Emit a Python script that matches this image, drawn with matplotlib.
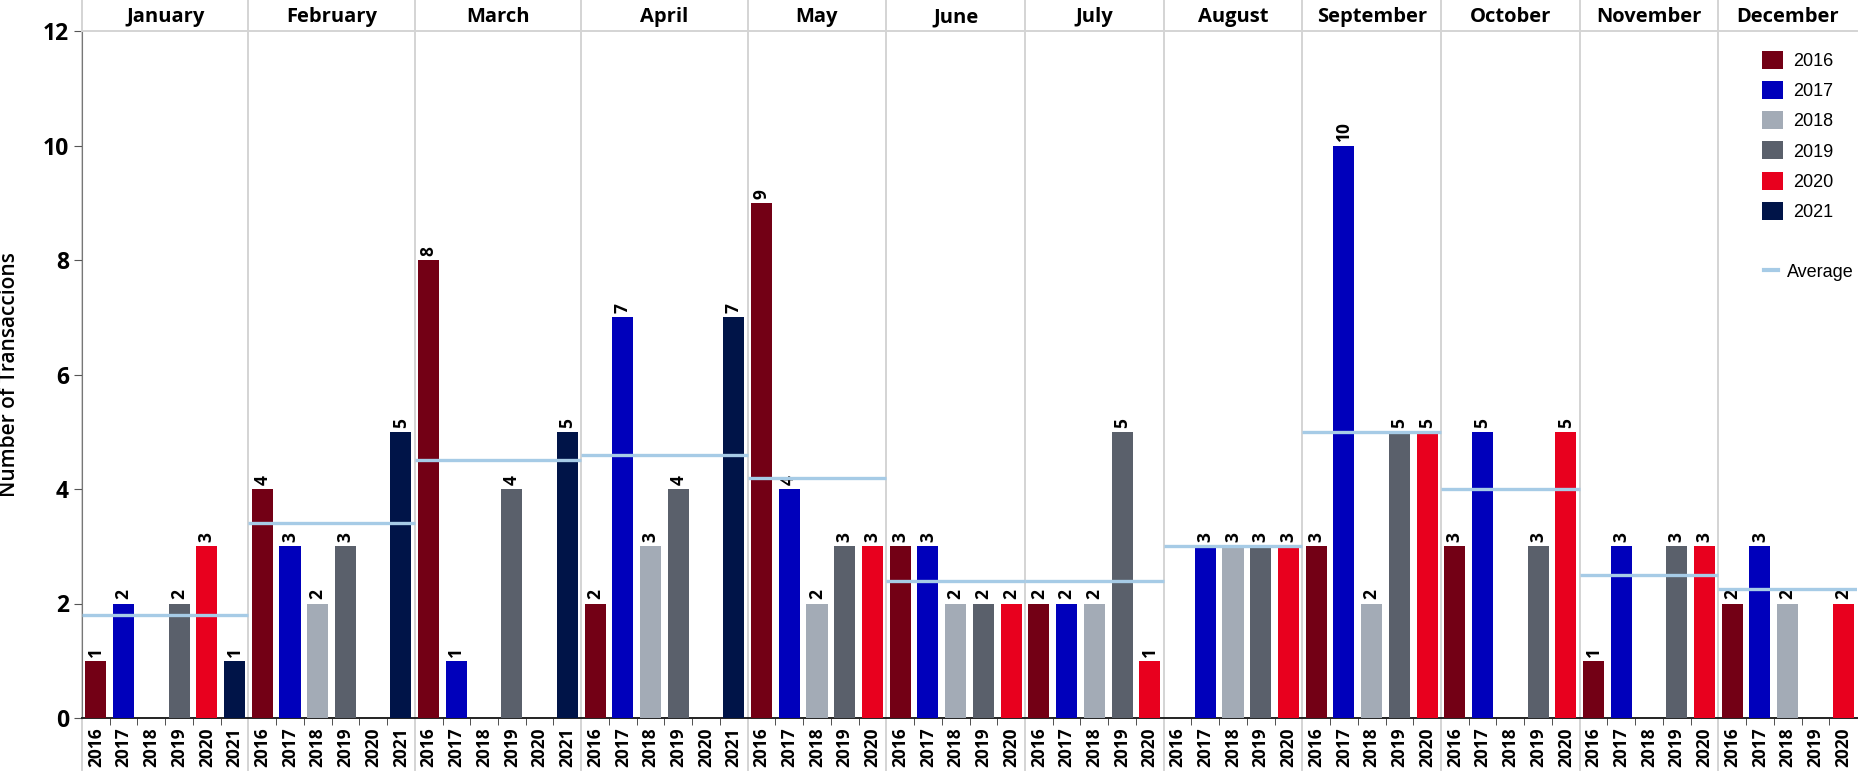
import numpy as np
import matplotlib
matplotlib.use("Agg")
import matplotlib.pyplot as plt
from matplotlib.patches import Patch
from matplotlib.lines import Line2D

months = ["January", "February", "March", "April", "May", "June",
          "July", "August", "September", "October", "November", "December"]

month_years = [
    [2016, 2017, 2018, 2019, 2020, 2021],  # January
    [2016, 2017, 2018, 2019, 2020, 2021],  # February
    [2016, 2017, 2018, 2019, 2020, 2021],  # March
    [2016, 2017, 2018, 2019, 2020, 2021],  # April
    [2016, 2017, 2018, 2019, 2020],        # May
    [2016, 2017, 2018, 2019, 2020],        # June
    [2016, 2017, 2018, 2019, 2020],        # July
    [2016, 2017, 2018, 2019, 2020],        # August
    [2016, 2017, 2018, 2019, 2020],        # September
    [2016, 2017, 2018, 2019, 2020],        # October
    [2016, 2017, 2018, 2019, 2020],        # November
    [2016, 2017, 2018, 2019, 2020],        # December
]

counts = [
    [1, 2, None, 2, 3, 1],
    [4, 3, 2, 3, None, 5],
    [8, 1, None, 4, None, 5],
    [2, 7, 3, 4, None, 7],
    [9, 4, 2, 3, 3],
    [3, 3, 2, 2, 2],
    [2, 2, 2, 5, 1],
    [None, 3, 3, 3, 3],
    [3, 10, 2, 5, 5],
    [3, 5, None, 3, 5],
    [1, 3, None, 3, 3],
    [2, 3, 2, None, 2],
]

year_colors = {
    2016: "#730015",
    2017: "#0000BB",
    2018: "#A3ABB6",
    2019: "#5A606B",
    2020: "#E8001E",
    2021: "#001448",
}
avg_color = "#A6CBE6"
sep_color = "#D4D4D4"
font = "Open Sans"

fig = plt.figure(figsize=(18.6, 7.8), dpi=100)
ax = fig.add_axes([82 / 1860, 62 / 780, 1775 / 1860, 687 / 780])

pos = 0
xticks, xlabels, bounds, minor = [], [], [-0.5], []
for m, (yrs, vals) in enumerate(zip(month_years, counts)):
    start = pos
    for y, v in zip(yrs, vals):
        xticks.append(pos)
        xlabels.append(str(y))
        if v is not None:
            ax.bar(pos, v, width=0.76, color=year_colors[y], zorder=3)
            ax.annotate(str(v), (pos, v), xytext=(0, 3), textcoords="offset points",
                        rotation=90, ha="center", va="bottom", fontsize=12.5,
                        fontweight="bold", family=font, zorder=4)
        pos += 1
    end = pos - 1
    minor.extend(np.arange(start, end) + 0.5)
    bounds.append(end + 0.5)
    present = [v for v in vals if v is not None]
    avg = np.mean(present)
    ax.hlines(avg, start - 0.5, end + 0.5, color=avg_color, lw=2.4, zorder=5)
    # month header above the plot area
    ax.text((start + end) / 2, 1 + 14 / 687, months[m],
            transform=ax.get_xaxis_transform(), ha="center", va="center",
            fontsize=14.5, fontweight="bold", family=font)

for b in bounds[:-1]:
    ax.axvline(b, ymin=-52 / 687, ymax=718 / 687, color=sep_color, lw=1.4,
               clip_on=False, zorder=1)

ax.set_xlim(-0.5, pos - 0.5)
ax.set_ylim(0, 12)
ax.set_xticks(xticks)
ax.set_xticklabels(xlabels, rotation=90, fontsize=12.5, fontweight="bold", family=font)
ax.set_xticks(minor, minor=True)
ax.tick_params(axis="x", which="major", length=0, pad=7)
ax.tick_params(axis="x", which="minor", length=5, color="#333333")
ax.set_yticks(range(0, 13, 2))
ax.set_yticklabels([str(v) for v in range(0, 13, 2)], fontsize=16.5,
                   fontweight="bold", family=font)
ax.tick_params(axis="y", length=6, color="#555555")
ax.set_ylabel("Number of Transaccions", fontsize=15, family=font, fontweight="semibold")
ax.yaxis.set_label_coords(-62 / 1775, 0.5)

ax.spines["right"].set_visible(False)
ax.spines["top"].set_color(sep_color)
ax.spines["top"].set_linewidth(1.4)
ax.spines["left"].set_color("#777777")
ax.spines["bottom"].set_color("#222222")
ax.spines["bottom"].set_linewidth(1.4)

handles = [Patch(facecolor=year_colors[y], label=str(y)) for y in year_colors]
leg1 = ax.legend(handles=handles, loc="upper left", bbox_to_anchor=(0.9375, 0.995),
                 frameon=False, prop={"family": "Liberation Sans", "size": 13},
                 handlelength=1.15, handleheight=1.15, labelspacing=0.62,
                 handletextpad=0.55)
ax.add_artist(leg1)
leg2 = ax.legend(handles=[Line2D([0], [0], color=avg_color, lw=3, label="Average")],
                 loc="center left", bbox_to_anchor=(0.9386, 0.649), frameon=False,
                 prop={"family": "Liberation Sans", "size": 13},
                 handlelength=0.75, handletextpad=0.5)

fig.savefig("out.png", dpi=100)
